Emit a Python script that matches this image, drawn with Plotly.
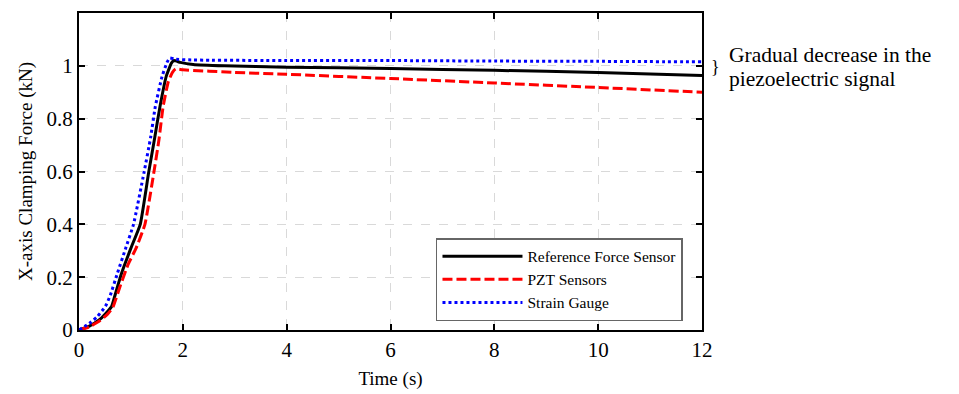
import plotly.graph_objects as go

# Reference force sensor
t_ref = [0, 0.2, 0.4, 0.55, 0.63, 0.72, 0.82, 1.0, 1.18, 1.34, 1.46, 1.56, 1.68, 1.78, 1.83, 1.95, 2.2, 2.8, 4, 6, 8, 10, 12]
f_ref = [0, 0.015, 0.04, 0.07, 0.09, 0.15, 0.215, 0.31, 0.40, 0.594, 0.73, 0.846, 0.96, 1.01, 1.02, 1.013, 1.005, 1.0, 0.995, 0.99, 0.983, 0.975, 0.963]

# PZT sensors
t_pzt = [0, 0.2, 0.4, 0.55, 0.65, 0.8, 0.95, 1.1, 1.27, 1.44, 1.54, 1.62, 1.72, 1.8, 1.86, 2.0, 3, 4, 6, 8, 10, 12]
f_pzt = [0, 0.012, 0.035, 0.06, 0.085, 0.17, 0.25, 0.31, 0.40, 0.594, 0.72, 0.846, 0.94, 0.975, 0.988, 0.985, 0.975, 0.968, 0.952, 0.935, 0.918, 0.90]

# Strain gauge
t_sg = [0, 0.2, 0.35, 0.51, 0.6, 0.74, 0.9, 1.05, 1.25, 1.38, 1.47, 1.6, 1.7, 1.75, 1.85, 2.2, 4, 6, 8, 10, 12]
f_sg = [0, 0.025, 0.05, 0.09, 0.13, 0.215, 0.31, 0.40, 0.594, 0.73, 0.846, 0.96, 1.015, 1.03, 1.025, 1.022, 1.02, 1.02, 1.018, 1.017, 1.015]

x_ticks = [0, 2, 4, 6, 8, 10, 12]
y_ticks = [0, 0.2, 0.4, 0.6, 0.8, 1.0]
y_tick_labels = ["0", "0.2", "0.4", "0.6", "0.8", "1"]

note_lines = ["Gradual decrease in the", "piezoelectric signal"]

FONT = "Liberation Serif, serif"

fig = go.Figure()
fig.add_trace(go.Scatter(x=t_ref, y=f_ref, mode="lines", name="Reference Force Sensor",
                         line=dict(color="black", width=3, shape="spline", smoothing=0.4)))
fig.add_trace(go.Scatter(x=t_pzt, y=f_pzt, mode="lines", name="PZT Sensors",
                         line=dict(color="#ff0000", width=3, dash="10px,4px", shape="spline", smoothing=0.4)))
fig.add_trace(go.Scatter(x=t_sg, y=f_sg, mode="lines", name="Strain Gauge",
                         line=dict(color="#0000ff", width=3, dash="3px,3px", shape="spline", smoothing=0.4)))

axis_common = dict(showline=True, linecolor="black", linewidth=2, mirror="ticks",
                   ticks="inside", ticklen=6, tickwidth=2, tickcolor="black",
                   showgrid=True, gridcolor="#d9d9d9", griddash="dash", gridwidth=1,
                   zeroline=False, automargin=False,
                   tickfont=dict(family=FONT, size=21, color="black"))

fig.update_xaxes(range=[0, 12], tickvals=x_ticks,
                 title=dict(text="Time (s)", font=dict(family=FONT, size=19, color="black"), standoff=10),
                 **axis_common)
fig.update_yaxes(range=[0, 1.2], tickvals=y_ticks, ticktext=y_tick_labels,
                 title=dict(text="X-axis Clamping Force (kN)", font=dict(family=FONT, size=19, color="black"), standoff=9),
                 **axis_common)

fig.add_annotation(x=1.0, xref="paper", y=0.995, yref="y", xanchor="left", yanchor="middle",
                   xshift=7, text="}", showarrow=False,
                   font=dict(family=FONT, size=18, color="black"))
for yv, line in zip([1.04, 0.952], note_lines):
    fig.add_annotation(x=1.0, xref="paper", y=yv, yref="y", xanchor="left", yanchor="middle",
                       xshift=25, text=line, showarrow=False, align="left",
                       font=dict(family=FONT, size=21.5, color="black"))

fig.update_layout(
    width=959, height=394,
    margin=dict(l=79, r=257, t=13, b=64),
    plot_bgcolor="white", paper_bgcolor="white",
    showlegend=True,
    legend=dict(x=0.573, y=0.29, xanchor="left", yanchor="top",
                bgcolor="white", bordercolor="#666666", borderwidth=1.5,
                font=dict(family=FONT, size=15.5, color="black"),
                tracegroupgap=0, itemwidth=80),
)

fig.write_html("out.html")
